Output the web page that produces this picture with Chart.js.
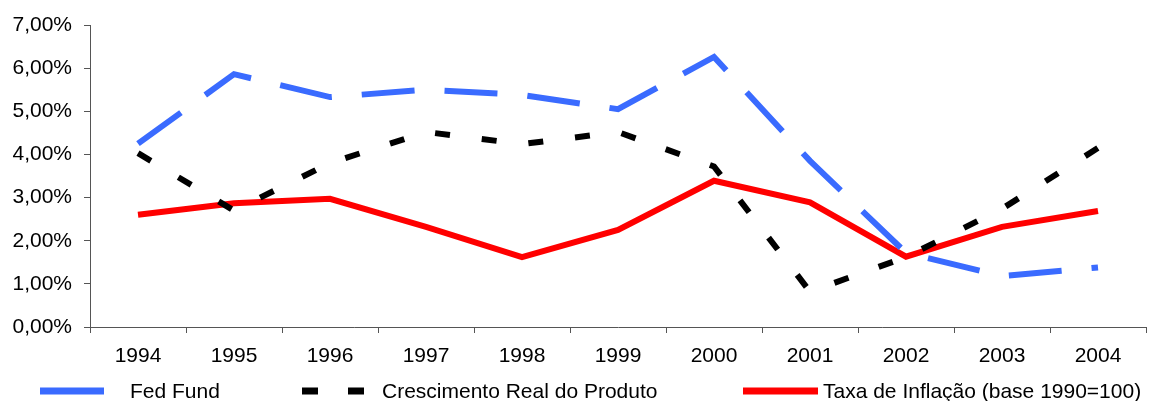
<!DOCTYPE html>
<html>
<head>
<meta charset="utf-8">
<script src="https://cdn.jsdelivr.net/npm/chart.js@4/dist/chart.umd.min.js"></script>
<style>
  html, body { margin: 0; padding: 0; background: #fff; }
  #wrap { width: 1151px; height: 401px; position: relative; }
</style>
</head>
<body>
<div id="wrap"><canvas id="chart"></canvas></div>
<script>
// --- data (percent) ---
const years = ['1994', '1995', '1996', '1997', '1998', '1999', '2000', '2001', '2002', '2003', '2004'];
const fedFund = [4.25, 5.86, 5.33, 5.50, 5.38, 5.05, 6.26, 3.85, 1.72, 1.18, 1.38];
const crescimento = [4.03, 2.70, 3.80, 4.52, 4.24, 4.52, 3.72, 0.82, 1.62, 2.74, 4.15];
const inflacao = [2.60, 2.87, 2.97, 2.32, 1.62, 2.25, 3.39, 2.89, 1.63, 2.32, 2.69];

const seriesNames = ['Fed Fund', 'Crescimento Real do Produto', 'Taxa de Inflação (base 1990=100)'];
const yTicks = [0, 1, 2, 3, 4, 5, 6, 7];

const FONT = "'Liberation Sans', Arial, sans-serif";
const AXIS = '#555';

// Excel-like legend row under the x axis
const bottomLegend = {
  id: 'bottomLegend',
  afterDraw(chart) {
    const ctx = chart.ctx;
    const y = 391;
    const items = [
      { ds: 0, x0: 40, x1: 104, dash: [], text: 130 },
      { ds: 1, x0: 302, x1: 364, dash: [16, 30], text: 382 },
      { ds: 2, x0: 743, x1: 818, dash: [], text: 823 }
    ];
    ctx.save();
    items.forEach(it => {
      const d = chart.data.datasets[it.ds];
      ctx.beginPath();
      ctx.setLineDash(it.dash);
      ctx.lineCap = 'butt';
      ctx.lineWidth = 7;
      ctx.strokeStyle = d.borderColor;
      ctx.moveTo(it.x0, y);
      ctx.lineTo(it.x1, y);
      ctx.stroke();
      ctx.setLineDash([]);
      ctx.fillStyle = '#000';
      ctx.font = '21px ' + FONT;
      ctx.textBaseline = 'middle';
      ctx.textAlign = 'left';
      ctx.fillText(d.label, it.text, y + 1);
    });
    ctx.restore();
  }
};

new Chart(document.getElementById('chart'), {
  type: 'line',
  data: {
    labels: years,
    datasets: [
      {
        label: seriesNames[0],
        data: fedFund,
        borderColor: '#3a6bff',
        borderWidth: 6,
        borderDash: [53, 30],
        borderCapStyle: 'butt',
        borderJoinStyle: 'miter',
        pointRadius: 0,
        tension: 0
      },
      {
        label: seriesNames[1],
        data: crescimento,
        borderColor: '#000000',
        borderWidth: 6,
        borderDash: [15, 32],
        borderCapStyle: 'butt',
        borderJoinStyle: 'miter',
        pointRadius: 0,
        tension: 0
      },
      {
        label: seriesNames[2],
        data: inflacao,
        borderColor: '#ff0000',
        borderWidth: 6,
        borderCapStyle: 'butt',
        borderJoinStyle: 'miter',
        pointRadius: 0,
        tension: 0
      }
    ]
  },
  options: {
    responsive: true,
    maintainAspectRatio: false,
    animation: false,
    layout: { padding: { top: 25, right: 5, bottom: 29, left: 0 } },
    plugins: {
      legend: { display: false },
      tooltip: { enabled: false }
    },
    scales: {
      x: {
        offset: true,
        grid: { offset: true, drawOnChartArea: false, drawTicks: true, tickLength: 6, color: AXIS },
        border: { display: true, color: AXIS, width: 1 },
        ticks: { color: '#000', font: { family: FONT, size: 21 }, padding: 11, maxRotation: 0, autoSkip: false },
        afterFit(scale) { scale.height = 45; }
      },
      y: {
        min: 0,
        max: 7,
        afterBuildTicks(scale) { scale.ticks = yTicks.map(v => ({ value: v })); },
        grid: { drawOnChartArea: false, drawTicks: true, tickLength: 6, color: AXIS },
        border: { display: true, color: AXIS, width: 1 },
        ticks: {
          color: '#000',
          font: { family: FONT, size: 21 },
          padding: 12,
          callback: v => v.toFixed(2).replace('.', ',') + '%'
        },
        afterFit(scale) { scale.width = 90; }
      }
    }
  },
  plugins: [bottomLegend]
});
</script>
</body>
</html>
